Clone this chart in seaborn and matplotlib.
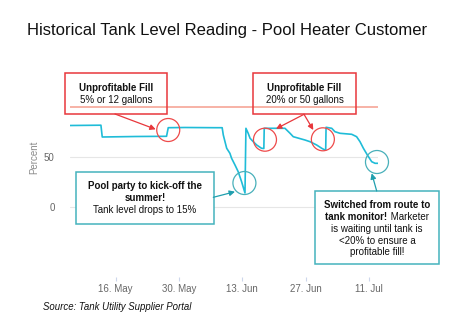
import matplotlib
matplotlib.use("Agg")
import matplotlib.pyplot as plt
from matplotlib.patches import Rectangle, Circle
from matplotlib.transforms import Affine2D, ScaledTranslation
import pandas as pd
import seaborn as sns

# Tank level readings (percent full)
timestamps = [
    "2017-05-05 22:00", "2017-05-12 18:00", "2017-05-13 01:00", "2017-05-20 12:00",
    "2017-05-27 06:00", "2017-05-27 15:00", "2017-05-31 08:00", "2017-06-06 23:00",
    "2017-06-08 13:00", "2017-06-08 19:00", "2017-06-09 04:00", "2017-06-09 13:00",
    "2017-06-10 06:00", "2017-06-10 15:00", "2017-06-11 09:00", "2017-06-12 02:00",
    "2017-06-12 20:00", "2017-06-13 14:00", "2017-06-13 19:00", "2017-06-14 07:00",
    "2017-06-14 17:00", "2017-06-15 10:00", "2017-06-16 04:00", "2017-06-17 06:00",
    "2017-06-17 18:00", "2017-06-17 20:00", "2017-06-22 10:00", "2017-06-23 13:00",
    "2017-06-24 06:00", "2017-06-26 20:00", "2017-06-27 23:00", "2017-06-29 10:00",
    "2017-06-30 13:00", "2017-07-01 06:00", "2017-07-01 10:00", "2017-07-01 12:00",
    "2017-07-02 18:00", "2017-07-03 11:00", "2017-07-04 14:00", "2017-07-07 04:00",
    "2017-07-08 06:00", "2017-07-09 00:00", "2017-07-09 18:00", "2017-07-10 15:00",
    "2017-07-11 14:00", "2017-07-12 08:00", "2017-07-13 01:00",
]
levels = [
    81.5, 81.8, 70.0, 70.5,
    70.7, 79.3, 79.5, 79.3,
    79.3, 72.0, 65.3, 58.7,
    53.7, 48.7, 42.0, 35.3,
    25.3, 14.0, 78.7, 73.7,
    68.7, 65.3, 62.0, 58.7,
    58.5, 78.7, 78.7, 73.7,
    70.3, 67.0, 65.3, 62.0,
    58.7, 57.0, 57.0, 79.7,
    78.7, 75.3, 73.7, 72.7,
    70.3, 65.3, 58.7, 52.0,
    45.3, 43.7, 43.7,
]

tick_dates = ["2017-05-16", "2017-05-30", "2017-06-13", "2017-06-27", "2017-07-11"]
tick_labels = ["16. May", "30. May", "13. Jun", "27. Jun", "11. Jul"]
y_ticks = [0, 50]
full_level = 100

# Highlighted readings: (time, level)
fill_points = [("2017-05-27 15:00", 77.0), ("2017-06-18 00:00", 67.3), ("2017-06-30 19:00", 67.7)]
party_point = ("2017-06-13 11:00", 24.0)
monitor_point = ("2017-07-12 18:00", 45.0)

sns.set_style("white")
plt.rcParams["font.family"] = ["Liberation Sans", "DejaVu Sans"]

W, H = 454, 328
fig = plt.figure(figsize=(W / 100, H / 100), dpi=100)
ax = fig.add_axes([70 / W, 1 - 277 / H, (378.3 - 70) / W, (277 - 60) / H])

df = pd.DataFrame({"time": pd.to_datetime(timestamps), "level": levels})
sns.lineplot(data=df, x="time", y="level", ax=ax, color="#1fbcd8", lw=1.2, zorder=4)

ax.set_xlim(df["time"].min(), df["time"].max())
ax.set_ylim(-70, 147)
ax.set_xticks(pd.to_datetime(tick_dates))
ax.set_xticklabels(tick_labels)
ax.set_yticks(y_ticks)
ax.set_yticklabels([str(v) for v in y_ticks])
ax.tick_params(axis="x", length=3, width=0.8, color="#ccd6eb", labelsize=7,
               labelcolor="#666666", pad=2, bottom=True)
ax.tick_params(axis="y", length=0, labelsize=7, labelcolor="#666666", pad=11)
ax.grid(axis="y", color="#e6e6e6", lw=0.8)
ax.grid(axis="x", visible=False)
for s in ax.spines.values():
    s.set_visible(False)
ax.set_xlabel("")
ax.set_ylabel("")
ax.patch.set_alpha(0)
ax.axhline(full_level, color="#f7ad9f", lw=1.3, zorder=3)

fig.text(34 / W, 1 - 157 / H, "Percent", rotation=90, ha="center", va="center",
         fontsize=7, color="#8a8a8a")

# pixel-space transform (origin top-left)
px = Affine2D().scale(1 / W, -1 / H).translate(0, 1) + fig.transFigure

fig.text(227.5 / W, 1 - 30 / H, "Historical Tank Level Reading - Pool Heater Customer",
         ha="center", va="center", fontsize=12, color="#111111")
fig.text(43 / W, 1 - 306.5 / H, "Source: Tank Utility Supplier Portal",
         ha="left", va="center", fontsize=6.9, style="italic", color="#111111")

RED = "#e8373c"
TEAL = "#45b3bd"
TEAL_ARROW = "#1f9fae"


def box(x0, y0, x1, y1, color, fill):
    ax.add_patch(Rectangle((x0, y0), x1 - x0, y1 - y0, transform=px, clip_on=False,
                           facecolor="white" if fill else "none", edgecolor=color,
                           lw=1.1, zorder=6))


def label(x, y, s, bold=False, ha="center"):
    return ax.text(x, y, s, transform=px, ha=ha, va="center", fontsize=7,
                   fontweight="bold" if bold else "normal", color="#111111",
                   zorder=7, clip_on=False)


def mixed_label(x, y, bold_part, normal_part):
    t1 = label(0, y, bold_part, bold=True, ha="left")
    t2 = label(0, y, normal_part, ha="left")
    r = fig.canvas.get_renderer()
    w1 = t1.get_window_extent(r).width
    w2 = t2.get_window_extent(r).width
    x0 = x - (w1 + w2) / 2
    t1.set_x(x0)
    t2.set_x(x0 + w1)


def arrow(start, end, color):
    ax.annotate("", xy=end, xycoords=px, xytext=start, textcoords=px,
                arrowprops=dict(arrowstyle="-|>", color=color, lw=0.9,
                                mutation_scale=8, shrinkA=0, shrinkB=0),
                zorder=7, annotation_clip=False)


def ring(point, color):
    t = pd.to_datetime(point[0])
    xd = matplotlib.dates.date2num(t)
    tr = fig.dpi_scale_trans + ScaledTranslation(xd, point[1], ax.transData)
    ax.add_patch(Circle((0, 0), 0.115, transform=tr, facecolor="none",
                        edgecolor=color, lw=0.9, clip_on=False, zorder=5))


# Unprofitable fill callouts
box(65, 73, 167, 114, RED, False)
label(116, 88.3, "Unprofitable Fill", bold=True)
label(116, 100, "5% or 12 gallons")
arrow((115, 114), (155.7, 129.3), RED)

box(253.3, 73.3, 355.7, 114.3, RED, False)
label(304.5, 88.3, "Unprofitable Fill", bold=True)
label(304.5, 100, "20% or 50 gallons")
arrow((304, 114.3), (276, 128.8), RED)
arrow((304, 114.3), (313.3, 130), RED)

for p in fill_points:
    ring(p, "#ee4a4a")

# Pool party callout
box(75.7, 172.3, 214, 224, TEAL, True)
label(145, 185.7, "Pool party to kick-off the", bold=True)
label(145, 198.3, "summer!", bold=True)
label(145, 209.7, "Tank level drops to 15%")
arrow((213.3, 197.3), (235, 191.7), TEAL_ARROW)
ring(party_point, "#48b0ba")

# Tank monitor callout
box(315, 191, 439.3, 264, TEAL, True)
label(377, 205, "Switched from route to", bold=True)
mixed_label(377, 217.3, "tank monitor!", " Marketer")
label(377, 229.3, "is waiting until tank is")
label(377, 240.7, "<20% to ensure a")
label(377, 252.3, "profitable fill!")
arrow((376.7, 191), (371.7, 173.3), TEAL_ARROW)
ring(monitor_point, "#48b0ba")

fig.savefig("out.png", dpi=100)
